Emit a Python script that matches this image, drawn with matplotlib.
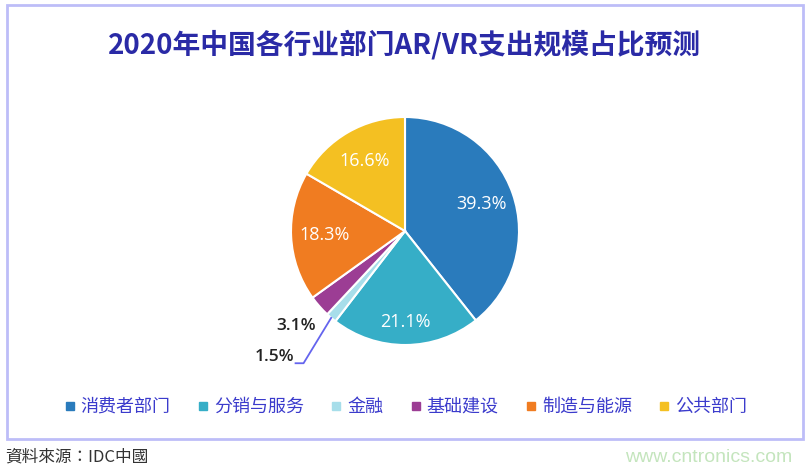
import numpy as np
import matplotlib
matplotlib.use('Agg')
import matplotlib.pyplot as plt
from matplotlib.lines import Line2D
from matplotlib.patches import Rectangle

plt.rcParams['font.family'] = ['Noto Sans CJK SC', 'DejaVu Sans']

# 数据
categories = ['消费者部门', '分销与服务', '金融', '基础建设', '制造与能源', '公共部门']
shares = [39.3, 21.1, 1.5, 3.1, 18.3, 16.6]
colors = ['#2A7BBC', '#36AEC7', '#A7DEEA', '#9C3D94', '#F07C21', '#F4C022']
title = '2020年中国各行业部门AR/VR支出规模占比预测'
source = '資料來源：IDC中國'
watermark = 'www.cntronics.com'

W, H = 808, 474
fig = plt.figure(figsize=(W / 100, H / 100), dpi=100)

# 外框
fig.patches.append(Rectangle((7 / W, 1 - 439 / H), 796 / W, 434 / H, transform=fig.transFigure,
                             fill=False, edgecolor='#BDBDF8', linewidth=2))

fig.text(0.5, 1 - 45 / H, title, ha='center', va='center', fontsize=20,
         fontweight='bold', color='#2A2AA6')

# 饼图
cx, cy, r = 405, 231, 114
ax = fig.add_axes([(cx - r) / W, (H - cy - r) / H, 2 * r / W, 2 * r / H])
wedges, texts = ax.pie(shares, colors=colors, startangle=90, counterclock=False,
                       wedgeprops=dict(edgecolor='white', linewidth=1.5))
ax.set_xlim(-1, 1)
ax.set_ylim(-1, 1)

for w, v in zip(wedges, shares):
    mid = np.deg2rad((w.theta1 + w.theta2) / 2)
    if v > 10:
        d = 0.8 if v == 21.1 else 0.71
        ax.text(d * np.cos(mid), d * np.sin(mid), f'{v}%', ha='center', va='center',
                fontsize=13, color='white', family=['Open Sans', 'DejaVu Sans'])

# 小扇区标签
ax.text(-0.78, -0.83, '3.1%', ha='right', va='center', fontsize=12.5, fontweight='semibold',
        color='#222222', family=['Open Sans', 'DejaVu Sans'])
w15 = wedges[2]
m = np.deg2rad((w15.theta1 + w15.theta2) / 2)
ax.plot([1.0 * np.cos(m), -0.89, -0.96], [1.0 * np.sin(m), -1.16, -1.16],
        color='#6464EE', linewidth=1.3, clip_on=False)
ax.text(-0.975, -1.105, '1.5%', ha='right', va='center', fontsize=12.5, fontweight='semibold',
        color='#222222', family=['Open Sans', 'DejaVu Sans'])

# 图例
handles = [Line2D([], [], marker='s', linestyle='', markersize=5.5, color=c) for c in colors]
leg = fig.legend(handles, categories, loc='center', bbox_to_anchor=(0.5, 1 - 407 / H), ncol=6,
                 frameon=False, fontsize=13, handletextpad=0.1, columnspacing=1.3,
                 handlelength=1.0)
for t in leg.get_texts():
    t.set_color('#3B3BCC')

fig.text(5 / W, 1 - 457 / H, source, ha='left', va='center', fontsize=12,
         color='#333333', family=['Noto Sans CJK TC', 'DejaVu Sans'])
fig.text(792 / W, 1 - 458 / H, watermark, ha='right', va='center', fontsize=14,
         color='#C4E5BD', family='Liberation Sans')

fig.savefig('out.png', dpi=100)
